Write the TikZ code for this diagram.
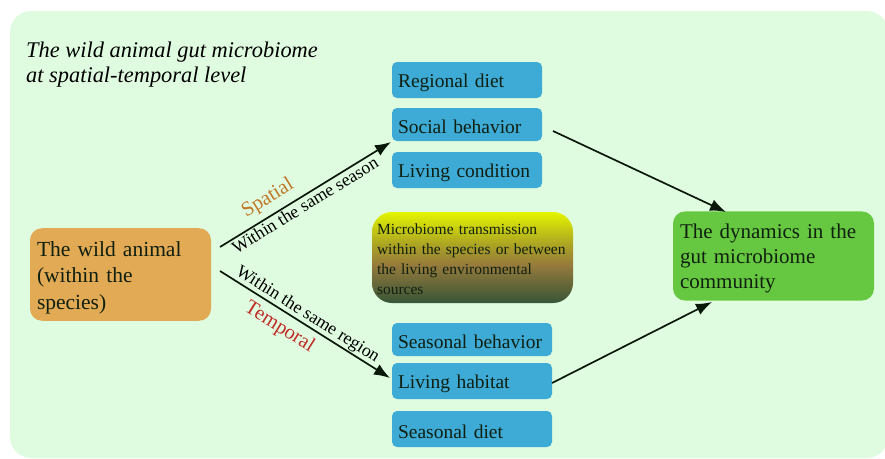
\documentclass[tikz,border=0pt]{standalone}
\usepackage{fontspec}
\setmainfont{Liberation Serif}
\usetikzlibrary{arrows.meta}
\definecolor{bgc}{RGB}{224,252,224}
\definecolor{bluec}{RGB}{62,170,214}
\definecolor{orangec}{RGB}{226,170,85}
\definecolor{greenc}{RGB}{102,200,64}
\definecolor{txtc}{RGB}{16,32,16}
\definecolor{arrc}{RGB}{10,24,10}
\definecolor{spatc}{RGB}{190,120,40}
\definecolor{tempc}{RGB}{190,45,40}
\definecolor{gtop}{RGB}{228,245,0}
\definecolor{golive}{RGB}{172,165,35}
\definecolor{gbrown}{RGB}{150,122,60}
\definecolor{gbot}{RGB}{55,85,55}
\pgfdeclareverticalshading{transsh}{100bp}{color(0bp)=(gbot); color(25bp)=(gbot); color(46bp)=(gbrown); color(57.5bp)=(golive); color(75bp)=(gtop); color(100bp)=(gtop)}
\newcommand{\topstrut}[1]{\rule{0pt}{#1}}
\begin{document}
\begin{tikzpicture}[x=1pt,y=-1pt,
  bluenode/.style={fill=bluec, rounded corners=5pt, minimum height=35pt, inner sep=6pt, align=left, font=\fontsize{19.5}{22}\selectfont, text=txtc},
  bigtext/.style={font=\fontsize{21.5}{26.5}\selectfont, text=txtc, align=left},
  conn/.style={draw=arrc, line width=1.7pt, -{Latex[length=16pt,width=12pt]}},
  lab/.style={font=\fontsize{17.8}{20}\selectfont, inner sep=0pt, sloped},
  clab/.style={font=\fontsize{20.5}{22}\selectfont, inner sep=0pt, sloped}
]
\useasboundingbox (0,0) rectangle (885,458);
\fill[bgc, rounded corners=21pt] (10,11) rectangle (888,458);

\node[anchor=north west, inner sep=0pt, align=left, font=\fontsize{22.4}{25}\selectfont\itshape] (title) at (26,42)
  {The wild animal gut microbiome\\at spatial-temporal level};

% blue boxes (spatial)
\node[bluenode, minimum width=150pt, text width=138pt, minimum height=36pt] (regional) at (467,80) {\topstrut{19.5pt}Regional diet};
\node[bluenode, minimum width=150pt, text width=138pt, minimum height=33pt] (social) at (467,124.5) {\topstrut{18.5pt}Social behavior};
\node[bluenode, minimum width=150pt, text width=138pt, minimum height=36pt] (condition) at (467,170) {\topstrut{19.5pt}Living condition};
% blue boxes (temporal)
\node[bluenode, minimum width=160pt, text width=148pt, minimum height=33pt] (seasbeh) at (472,339.5) {\topstrut{18.5pt}Seasonal behavior};
\node[bluenode, minimum width=160pt, text width=148pt, minimum height=36pt] (habitat) at (472,381) {\topstrut{19.5pt}Living habitat};
\node[bluenode, minimum width=160pt, text width=148pt, minimum height=36pt] (seasdiet) at (472,429) {\topstrut{19.5pt}Seasonal diet};

% animal
\node[bigtext, fill=orangec, rounded corners=12pt, minimum width=181pt, minimum height=91pt, text width=167pt, inner sep=7pt] (animal) at (120.5,274.5)
  {\topstrut{21pt}The wild animal\\(within the\\species)};

% transmission
\node[shading=transsh, rounded corners=20pt, minimum width=201pt, minimum height=91pt, text width=191pt, inner sep=5pt, align=left, font=\fontsize{15.5}{20}\selectfont, text=txtc] (trans) at (472.5,257.5)
  {\topstrut{13.7pt}Microbiome transmission\\within the species or between\\the living environmental\\sources};

% dynamics
\node[bigtext, font=\fontsize{21}{25}\selectfont, fill=greenc, rounded corners=12pt, minimum width=201pt, minimum height=88pt, text width=187pt, inner sep=7pt] (dyn) at (773.5,256)
  {\topstrut{20.5pt}The dynamics in the\\gut microbiome\\community};

% connector end points
\coordinate (sp0) at (220,247);
\coordinate (sp1) at (391,142);
\coordinate (tp0) at (220,271);
\coordinate (tp1) at (390,378);
\coordinate (r0) at (553,131);
\coordinate (r1) at (726,212);
\coordinate (q0) at (552,383);
\coordinate (q1) at (712,302);

\draw[conn] (sp0) -- node[clab, pos=0.33, above=6pt, text=spatc] (lspat) {Spatial}
  node[lab, pos=0.47, below=1.5pt] (lseason) {Within the same season} (sp1);
\draw[conn] (tp0) -- node[lab, pos=0.485, above=0.5pt] (lregion) {Within the same region}
  node[clab, pos=0.40, below=6pt, text=tempc] (ltemp) {Temporal} (tp1);
\draw[conn] (r0) -- (r1);
\draw[conn] (q0) -- (q1);
\end{tikzpicture}
\end{document}
